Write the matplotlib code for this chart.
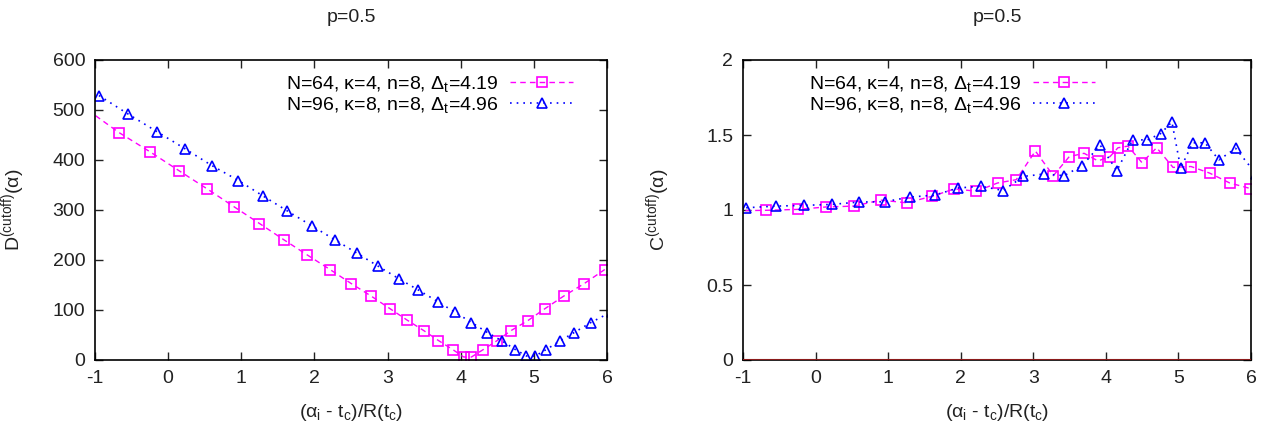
import matplotlib.pyplot as plt

plt.rcParams['font.family'] = ['Liberation Sans', 'DejaVu Sans']
plt.rcParams['mathtext.fontset'] = 'custom'
plt.rcParams['mathtext.rm'] = 'Liberation Sans'
plt.rcParams['mathtext.it'] = 'Liberation Sans'
plt.rcParams['axes.unicode_minus'] = False
plt.rcParams['font.size'] = 14

# left panel: D^(cutoff)(alpha)
d64_x = [-1.10, -0.673, -0.254, 0.155, 0.536, 0.906, 1.249, 1.587, 1.903, 2.213,
         2.502, 2.774, 3.03, 3.265, 3.493, 3.695, 3.89, 4.04, 4.147, 4.31,
         4.50, 4.69, 4.92, 5.155, 5.41, 5.69, 5.97]
d64_y = [500, 455, 417, 378, 342, 306, 273, 240, 210, 181,
         153, 128, 103, 80, 59, 39, 21, 6, 6, 21,
         39, 59, 79, 103, 128, 153, 181]
d96_x = [-0.946, -0.548, -0.156, 0.225, 0.596, 0.961, 1.298, 1.631, 1.968, 2.284,
         2.578, 2.867, 3.15, 3.42, 3.684, 3.918, 4.147, 4.365, 4.566, 4.746,
         4.899, 5.019, 5.17, 5.356, 5.552, 5.78, 6.07]
d96_y = [529, 492, 457, 423, 389, 359, 328, 298, 268, 240,
         214, 188, 163, 140, 117, 96, 75, 55, 38, 21,
         8, 8, 21, 38, 55, 75, 97]

# right panel: C^(cutoff)(alpha)
c64_x = [-1.10, -0.681, -0.247, 0.138, 0.528, 0.897, 1.254, 1.611, 1.913, 2.216,
         2.507, 2.765, 3.029, 3.276, 3.496, 3.70, 3.892, 4.057, 4.167, 4.305,
         4.497, 4.70, 4.926, 5.173, 5.43, 5.707, 5.993]
c64_y = [0.995, 0.998, 1.004, 1.02, 1.026, 1.066, 1.048, 1.092, 1.141, 1.125,
         1.18, 1.202, 1.393, 1.229, 1.356, 1.378, 1.327, 1.356, 1.415, 1.426,
         1.316, 1.415, 1.284, 1.29, 1.246, 1.18, 1.143]
c96_x = [-0.956, -0.544, -0.159, 0.22, 0.594, 0.951, 1.298, 1.639, 1.968, 2.282,
         2.584, 2.865, 3.15, 3.425, 3.673, 3.921, 4.151, 4.371, 4.569, 4.756,
         4.91, 5.031, 5.196, 5.366, 5.558, 5.789, 6.07]
c96_y = [1.015, 1.026, 1.031, 1.037, 1.053, 1.055, 1.086, 1.099, 1.147, 1.158,
         1.13, 1.224, 1.24, 1.229, 1.295, 1.433, 1.262, 1.47, 1.466, 1.51,
         1.587, 1.279, 1.448, 1.448, 1.334, 1.411, 1.24]

lab64 = 'N=64, κ=4, n=8, $\\Delta_{\\mathrm{t}}$=4.19'
lab96 = 'N=96, κ=8, n=8, $\\Delta_{\\mathrm{t}}$=4.96'
xlab = '($\\alpha_{\\mathrm{i}}$ - $\\mathrm{t_c}$)/R($\\mathrm{t_c}$)'

pink = '#ff00ff'
blue = '#0000ff'
ink = '#222222'

fig = plt.figure(figsize=(12.64, 4.26), dpi=100)
axL = fig.add_axes([95 / 1264, 66 / 426, 512 / 1264, 300 / 426])
axR = fig.add_axes([743 / 1264, 66 / 426, 508 / 1264, 300 / 426])


def style(ax, yticks):
    ax.set_xlim(-1, 6)
    ax.set_xticks(range(-1, 7))
    ax.set_yticks(yticks)
    ax.tick_params(direction='in', length=6, width=1, top=True, right=True,
                   labelsize=14, pad=7, colors=ink)
    for s in ax.spines.values():
        s.set_linewidth(1.2)
    ax.set_title('p=0.5', fontsize=14, pad=27, color=ink)
    ax.set_xlabel(xlab, fontsize=14, color=ink)
    ax.xaxis.set_label_coords(0.5, -0.14)


def legend(ax, xr):
    ax.legend(loc='upper right', bbox_to_anchor=(xr, 0.985), frameon=False,
              markerfirst=False, handlelength=3.2, handletextpad=0.6,
              borderpad=0, labelspacing=0.05, fontsize=14)


axL.plot(d64_x, d64_y, color=pink, ls=(0, (4, 3)), lw=1, marker='s', ms=7,
         mfc='none', mew=1.2, label=lab64)
axL.plot(d96_x, d96_y, color=blue, ls=(0, (1, 3)), lw=1.2, marker='^', ms=6.5,
         mfc='none', mew=1.2, label=lab96)
axL.set_ylim(0, 600)
style(axL, range(0, 601, 100))
axL.set_ylabel('D$^{\\mathrm{(cutoff)}}$(α)', fontsize=14, color=ink)
axL.yaxis.set_label_coords(-0.132, 0.5)
legend(axL, 0.952)

axR.axhline(0, color='#8b1a1a', lw=1.5, zorder=3)
axR.plot(c64_x, c64_y, color=pink, ls=(0, (4, 3)), lw=1, marker='s', ms=7,
         mfc='none', mew=1.2, label=lab64)
axR.plot(c96_x, c96_y, color=blue, ls=(0, (1, 3)), lw=1.2, marker='^', ms=6.5,
         mfc='none', mew=1.2, label=lab96)
axR.set_ylim(0, 2)
style(axR, [0, 0.5, 1, 1.5, 2])
axR.set_yticklabels(['0', '0.5', '1', '1.5', '2'])
axR.set_ylabel('C$^{\\mathrm{(cutoff)}}$(α)', fontsize=14, color=ink)
axR.yaxis.set_label_coords(-0.14, 0.5)
legend(axR, 0.713)

fig.savefig('out.png', dpi=100)
